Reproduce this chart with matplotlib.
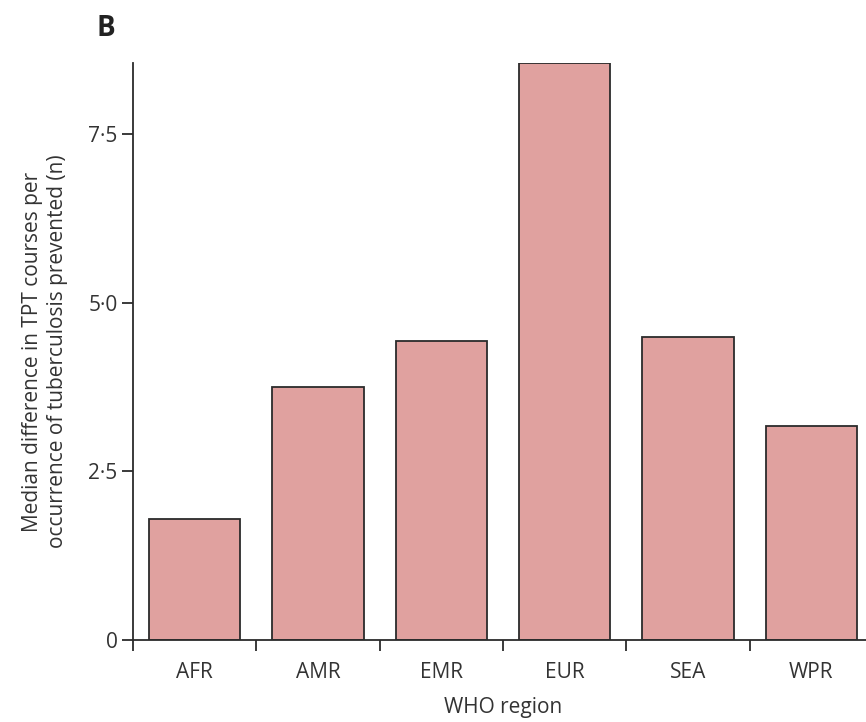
import matplotlib.pyplot as plt

plt.rcParams['font.family'] = ['Open Sans', 'DejaVu Sans']

regions = ['AFR', 'AMR', 'EMR', 'EUR', 'SEA', 'WPR']
median_diff = [1.79, 3.75, 4.43, 8.55, 4.49, 3.17]
ytick_vals = [0, 2.5, 5.0, 7.5]
ytick_labels = ['0', '2·5', '5·0', '7·5']

text_col = '#333333'
fig = plt.figure(figsize=(8.66, 7.22), dpi=100)
ax = fig.add_axes([0.1536, 0.1136, 0.8544, 0.7991])

x = range(len(regions))
ax.bar(x, median_diff, width=0.74, color='#e0a19f', edgecolor='#2b2b2b', linewidth=1.3)

ax.set_xlim(-0.5, len(regions) - 0.5)
ax.set_ylim(0, 8.55)
ax.set_yticks(ytick_vals)
ax.set_yticklabels(ytick_labels)
ax.set_xticks(list(x))
ax.set_xticklabels(regions)
ax.set_xticks([i - 0.5 for i in range(len(regions) + 1)], minor=True)
ax.tick_params(axis='x', which='major', length=0, pad=16, labelsize=15, labelcolor=text_col)
ax.tick_params(axis='x', which='minor', length=8, width=1.3, color='#2b2b2b', direction='out')
ax.tick_params(axis='y', length=8, width=1.3, color='#2b2b2b', labelsize=15, labelcolor=text_col, pad=3)

for s in ['top', 'right']:
    ax.spines[s].set_visible(False)
for s in ['left', 'bottom']:
    ax.spines[s].set_linewidth(1.3)
    ax.spines[s].set_color('#2b2b2b')

ax.set_xlabel('WHO region', fontsize=15, color=text_col, labelpad=10)
ax.set_ylabel('Median difference in TPT courses per\noccurrence of tuberculosis prevented (n)',
              fontsize=15, color=text_col, labelpad=15, linespacing=1.2)

fig.text(0.111, 0.961, 'B', fontsize=20, fontweight='bold', color='#222222', ha='left', va='center')

fig.savefig('out.png', dpi=100)
